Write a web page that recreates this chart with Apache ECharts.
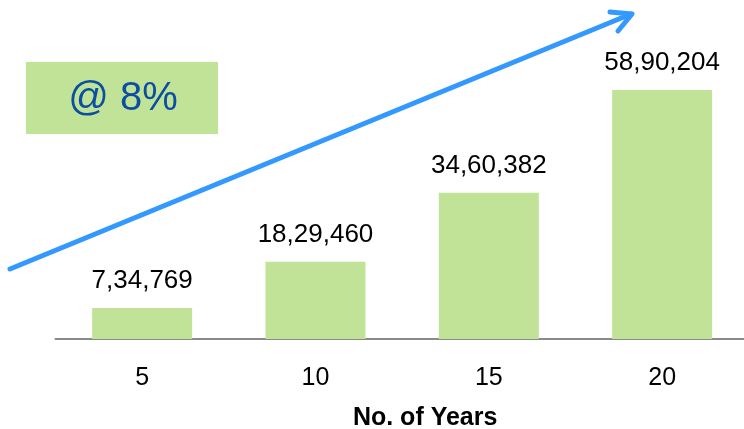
<!DOCTYPE html>
<html>
<head>
<meta charset="utf-8">
<script src="https://cdn.jsdelivr.net/npm/echarts@6/dist/echarts.min.js"></script>
<style>html,body{margin:0;padding:0;background:#fff}#c{width:744px;height:429px}</style>
</head>
<body>
<div id="c"></div>
<script>
const categories = ['5', '10', '15', '20'];
const values = [734769, 1829460, 3460382, 5890204];
const valueLabels = ['7,34,769', '18,29,460', '34,60,382', '58,90,204'];
const axisName = 'No. of Years';
const rateText = '@ 8%';

const FONT = '"Liberation Sans", Arial, sans-serif';
const chart = echarts.init(document.getElementById('c'), null, {renderer: 'canvas'});
chart.setOption({
  animation: false,
  backgroundColor: '#ffffff',
  grid: {left: 55.5, right: -4.8, top: 43, bottom: 90, containLabel: false, outerBoundsMode: 'none'},
  xAxis: {
    type: 'category',
    data: categories,
    axisLine: {lineStyle: {color: '#898989', width: 2}},
    axisTick: {show: false},
    axisLabel: {color: '#000', fontSize: 25, fontFamily: FONT, margin: 27},
    name: axisName,
    nameLocation: 'middle',
    nameGap: 67,
    nameTextStyle: {color: '#000', fontSize: 25, fontWeight: 'bold', fontFamily: FONT, padding: [0, 0, 0, 46]}
  },
  yAxis: {
    type: 'value', min: 0, max: 7000000, show: false, splitLine: {show: false}
  },
  series: [{
    type: 'bar',
    data: values,
    barWidth: 100,
    itemStyle: {color: '#c0e398'},
    label: {
      show: true, position: 'top', distance: 14,
      color: '#000', fontSize: 26, fontFamily: FONT,
      formatter: p => valueLabels[p.dataIndex]
    }
  }],
  graphic: [
    {type: 'rect', shape: {x: 26, y: 62, width: 192, height: 72}, style: {fill: '#c0e398'}},
    {type: 'text', x: 123, y: 99, style: {text: rateText, fill: '#0c4ea2', font: '40px "Liberation Sans", Arial, sans-serif', align: 'center', verticalAlign: 'middle'}},
    {type: 'line', shape: {x1: 10, y1: 269, x2: 631, y2: 14}, style: {stroke: '#3399ff', lineWidth: 5, lineCap: 'round'}},
    {type: 'polyline', shape: {points: [[610, 12], [632, 14], [618, 31]]}, style: {stroke: '#3399ff', lineWidth: 5, lineCap: 'round', lineJoin: 'round', fill: null}}
  ]
});
</script>
</body>
</html>
